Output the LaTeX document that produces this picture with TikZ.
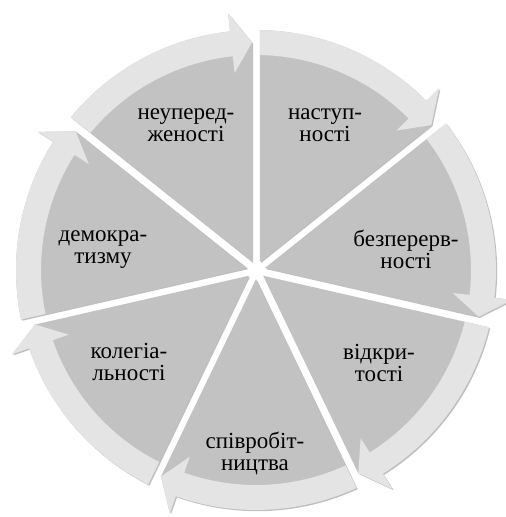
\documentclass[tikz,border=0pt]{standalone}
\usepackage{fontspec}
\setmainfont{Liberation Serif}
\newfontfamily\lblfont{Liberation Serif}
\usetikzlibrary{shadows}
\definecolor{piecol}{RGB}{194,194,194}
\definecolor{bandcol}{RGB}{228,228,228}
\begin{document}
\begin{tikzpicture}[x=1pt,y=1pt,
  lbl/.style={align=center,font=\lblfont\fontsize{23}{22}\selectfont,inner sep=0pt},
  segshadow/.style={drop shadow={shadow xshift=1.2pt,shadow yshift=-1.2pt,opacity=0.5}}]
\useasboundingbox (-256,-247) rectangle (250,270);
\foreach \k in {0,...,6}{
  \pgfmathsetmacro\a{90-51.428571*\k}
  \pgfmathsetmacro\b{\a-51.428571}
  \pgfmathsetmacro\m{\a-25.714286}
  \pgfmathsetmacro\hb{\b+6.2}
  \pgfmathsetmacro\sO{\a-asin(4/240)}
  \pgfmathsetmacro\sI{\a-asin(4/215)}
  \pgfmathsetmacro\t{\b+asin(4/227.5)}
  \path[fill=piecol,segshadow] (\m:9.2) -- (\sO:240)
     arc[start angle=\sO,end angle=\hb,radius=240] -- (\hb:258) -- (\t:227.5) -- cycle;
  \fill[bandcol] (\sO:240) arc[start angle=\sO,end angle=\hb,radius=240]
     -- (\hb:258) -- (\t:227.5) -- (\hb:198) -- (\hb:215)
     arc[start angle=\hb,end angle=\sI,radius=215] -- cycle;
}
\node[lbl] (l1) at (69,145) {наступ-\\ності};
\node[lbl] (l2) at (150,21) {безперерв-\\ності};
\node[lbl] (l3) at (123,-93) {відкри-\\тості};
\node[lbl] (l4) at (-1,-183) {співробіт-\\ництва};
\node[lbl] (l5) at (-127,-92) {колегіа-\\льності};
\node[lbl] (l6) at (-153,20) {демокра-\\тизму};
\node[lbl] (l7) at (-70,145) {неуперед-\\женості};
\end{tikzpicture}
\end{document}
